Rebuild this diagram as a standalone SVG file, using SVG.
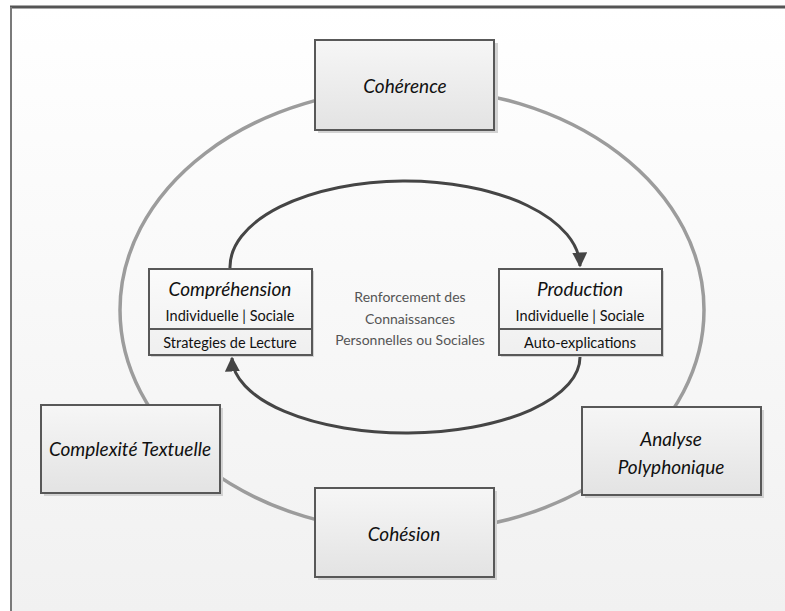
<svg xmlns="http://www.w3.org/2000/svg" width="785" height="611" viewBox="0 0 785 611">
  <defs>
    <linearGradient id="bg" x1="0" y1="0" x2="0" y2="1">
      <stop offset="0" stop-color="#ffffff"/>
      <stop offset="0.5" stop-color="#f8f8f8"/>
      <stop offset="1" stop-color="#f1f1f1"/>
    </linearGradient>
    <linearGradient id="boxfill" x1="0" y1="0" x2="0" y2="1">
      <stop offset="0" stop-color="#f6f6f6"/>
      <stop offset="1" stop-color="#e3e3e3"/>
    </linearGradient>
    <linearGradient id="innerfill" x1="0" y1="0" x2="0" y2="1">
      <stop offset="0" stop-color="#fbfbfb"/>
      <stop offset="1" stop-color="#efefef"/>
    </linearGradient>
    <marker id="arrow" viewBox="0 0 10 10" refX="9" refY="5" markerWidth="5" markerHeight="5" orient="auto" markerUnits="strokeWidth">
      <path d="M0,0 L10,5 L0,10 Z" fill="#454545"/>
    </marker>
  </defs>
  <style>
    .frame-top { stroke: #555; stroke-width: 3; }
    .frame-left { stroke: #7a7a7a; stroke-width: 2; }
    .ring { fill: none; stroke: #9c9c9c; stroke-width: 3.5; }
    .box { fill: url(#boxfill); stroke: #585858; stroke-width: 2; }
    .inner { fill: url(#innerfill); stroke: #585858; stroke-width: 2; }
    .shadow { fill: #d2d2d2; }
    .flow { fill: none; stroke: #454545; stroke-width: 3; }
    .title { font-family: Lato, "Open Sans", sans-serif; font-style: italic; font-size: 19px; fill: #111; text-anchor: middle; }
    .sub { font-family: Lato, "Open Sans", sans-serif; font-size: 14.5px; fill: #111; text-anchor: middle; }
    .center { font-family: Lato, "Open Sans", sans-serif; font-size: 14px; fill: #555; text-anchor: middle; }
  </style>

  <!-- page background and frame -->
  <rect x="0" y="0" width="785" height="611" fill="#ffffff"/>
  <rect x="11" y="7" width="774" height="604" fill="url(#bg)"/>
  <line class="frame-top" x1="10" y1="7" x2="785" y2="7"/>
  <line class="frame-left" x1="11" y1="7" x2="11" y2="611"/>

  <!-- outer ring -->
  <ellipse class="ring" cx="412" cy="310" rx="292" ry="222"/>

  <!-- connectors -->
  <g id="connectors">
    <path class="flow" d="M230,268 A175,86 0 0 1 580,266" marker-end="url(#arrow)"/>
    <path class="flow" d="M580,356 A174,76 0 0 1 232,358" marker-end="url(#arrow)"/>
  </g>

  <g id="coherence">
    <rect class="shadow" x="318" y="43" width="180" height="90"/>
    <rect class="box" x="315" y="40" width="179" height="90"/>
    <text class="title" x="405" y="93">Cohérence</text>
  </g>

  <g id="comprehension">
    <rect class="shadow" x="151" y="271" width="163" height="86"/>
    <rect class="inner" x="149" y="269" width="163" height="86"/>
    <line x1="149" y1="329" x2="312" y2="329" stroke="#585858" stroke-width="2"/>
    <text class="title" x="230" y="296">Compréhension</text>
    <text class="sub" x="230" y="321">Individuelle | Sociale</text>
    <text class="sub" x="230" y="348">Strategies de Lecture</text>
  </g>

  <g id="production">
    <rect class="shadow" x="501" y="271" width="163" height="86"/>
    <rect class="inner" x="499" y="269" width="163" height="86"/>
    <line x1="499" y1="329" x2="662" y2="329" stroke="#585858" stroke-width="2"/>
    <text class="title" x="580" y="296">Production</text>
    <text class="sub" x="580" y="321">Individuelle | Sociale</text>
    <text class="sub" x="580" y="348">Auto-explications</text>
  </g>

  <g id="renforcement">
    <text class="center" x="410" y="302">Renforcement des</text>
    <text class="center" x="410" y="324">Connaissances</text>
    <text class="center" x="410" y="345">Personnelles ou Sociales</text>
  </g>

  <g id="complexite">
    <rect class="shadow" x="44" y="408" width="179" height="88"/>
    <rect class="box" x="41" y="405" width="179" height="88"/>
    <text class="title" x="130" y="456">Complexité Textuelle</text>
  </g>

  <g id="analyse">
    <rect class="shadow" x="585" y="410" width="179" height="88"/>
    <rect class="box" x="582" y="407" width="179" height="88"/>
    <text class="title" x="671" y="446">Analyse</text>
    <text class="title" x="671" y="474">Polyphonique</text>
  </g>

  <g id="cohesion">
    <rect class="shadow" x="318" y="491" width="179" height="89"/>
    <rect class="box" x="315" y="488" width="179" height="89"/>
    <text class="title" x="404" y="541">Cohésion</text>
  </g>
</svg>
